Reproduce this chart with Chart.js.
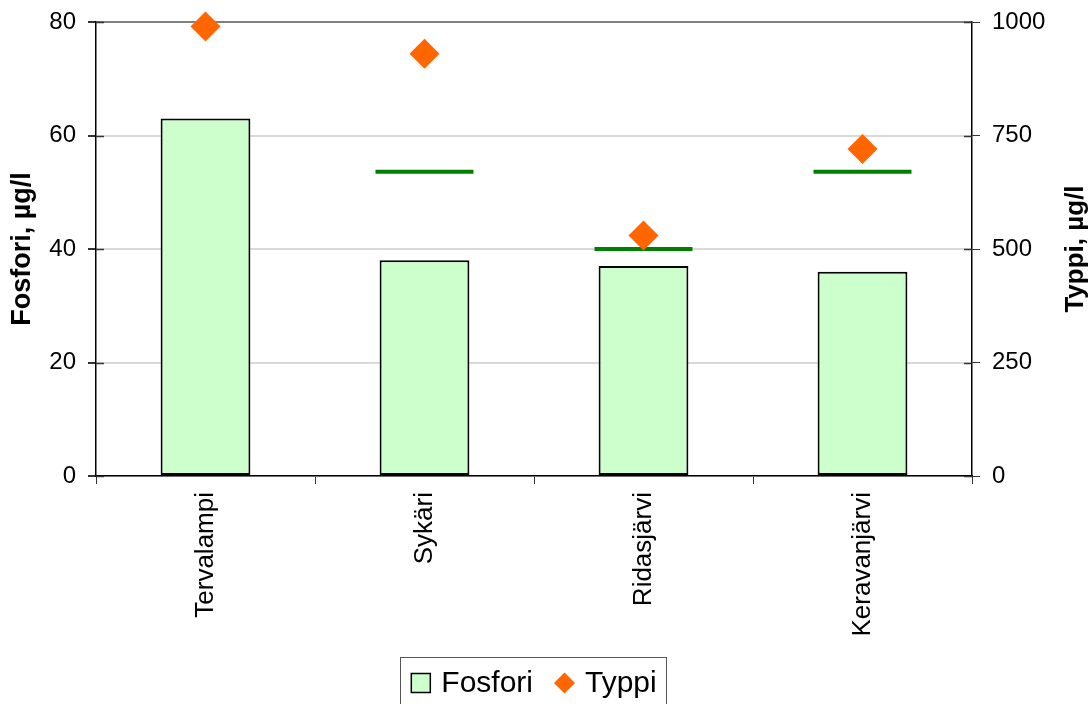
<!DOCTYPE html>
<html>
<head>
<meta charset="utf-8">
<title>Fosfori ja typpi</title>
<script src="https://cdn.jsdelivr.net/npm/chart.js@4"></script>
<style>
  html, body { margin: 0; padding: 0; background: #fff; }
  #wrap { width: 1091px; height: 704px; }
</style>
</head>
<body>
<div id="wrap"><canvas id="chart" width="1091" height="704"></canvas></div>
<script>
// Lakes and measured values
const lakes = ['Tervalampi', 'Sykäri', 'Ridasjärvi', 'Keravanjärvi'];
const fosfori = [63, 38, 37, 36];          // µg/l, left axis
const typpi = [990, 930, 530, 720];        // µg/l, right axis
const typpiLevel = [null, 670, 500, 670];  // green reference level, right axis

const FONT = 'Liberation Sans, Arial, sans-serif';
const BAR_FILL = '#ccffcc';
const ORANGE = '#ff6600';

// Right axis title reads bottom-to-top like the left one
const rightTitle = {
    id: 'rightTitle',
    afterDraw(chart) {
        const ctx = chart.ctx;
        const area = chart.chartArea;
        ctx.save();
        ctx.translate(1076, (area.top + area.bottom) / 2);
        ctx.rotate(-Math.PI / 2);
        ctx.font = 'bold 26px ' + FONT;
        ctx.fillStyle = '#000';
        ctx.textAlign = 'center';
        ctx.textBaseline = 'middle';
        ctx.fillText('Typpi, µg/l', 0, 0);
        ctx.restore();
    }
};

// Short tick marks reaching into the plot on both value axes
const innerTicks = {
    id: 'innerTicks',
    afterDraw(chart) {
        const ctx = chart.ctx;
        ctx.save();
        ctx.strokeStyle = '#333';
        ctx.lineWidth = 1.5;
        ['y', 'y2'].forEach(id => {
            const s = chart.scales[id];
            const x0 = id === 'y' ? s.right : s.left;
            const dir = id === 'y' ? 1 : -1;
            s.ticks.forEach(t => {
                const py = Math.round(s.getPixelForValue(t.value)) + 0.5;
                ctx.beginPath();
                ctx.moveTo(x0, py);
                ctx.lineTo(x0 + dir * 8, py);
                ctx.stroke();
            });
        });
        ctx.restore();
    }
};

// Framed legend under the plot: square for the bars, diamond for the points
const boxLegend = {
    id: 'boxLegend',
    afterDraw(chart) {
        const ctx = chart.ctx;
        const area = chart.chartArea;
        ctx.save();
        ctx.font = '30px ' + FONT;
        const w1 = ctx.measureText('Fosfori').width;
        const w2 = ctx.measureText('Typpi').width;
        const total = 19 + 11 + w1 + 21 + 21 + 10 + w2;
        let x = (area.left + area.right) / 2 - total / 2;
        const cy = 683;

        ctx.strokeStyle = '#555';
        ctx.lineWidth = 1;
        ctx.strokeRect(Math.round(x - 11) + 0.5, 657.5, Math.round(total + 21), 60);

        ctx.fillStyle = BAR_FILL;
        ctx.fillRect(x, cy - 9.5, 19, 19);
        ctx.strokeStyle = '#000';
        ctx.lineWidth = 1.5;
        ctx.strokeRect(x, cy - 9.5, 19, 19);
        x += 19 + 11;

        ctx.fillStyle = '#000';
        ctx.textBaseline = 'middle';
        ctx.fillText('Fosfori', x, cy + 1);
        x += w1 + 21;

        ctx.fillStyle = ORANGE;
        ctx.beginPath();
        ctx.moveTo(x, cy);
        ctx.lineTo(x + 10.5, cy - 10.5);
        ctx.lineTo(x + 21, cy);
        ctx.lineTo(x + 10.5, cy + 10.5);
        ctx.closePath();
        ctx.fill();
        x += 21 + 10;

        ctx.fillStyle = '#000';
        ctx.fillText('Typpi', x, cy + 1);
        ctx.restore();
    }
};

const ctx = document.getElementById('chart').getContext('2d');
new Chart(ctx, {
    data: {
        labels: lakes,
        datasets: [
            {
                type: 'line',
                label: 'Typpi',
                data: typpi,
                yAxisID: 'y2',
                showLine: false,
                clip: false,
                pointStyle: 'rectRot',
                pointRadius: 15,
                pointBackgroundColor: ORANGE,
                pointBorderColor: ORANGE,
                pointBorderWidth: 0,
                order: 0
            },
            {
                type: 'line',
                label: 'Taso',
                data: typpiLevel,
                yAxisID: 'y2',
                showLine: false,
                clip: false,
                pointStyle: 'line',
                pointRadius: 49,
                pointBorderColor: '#008000',
                pointBorderWidth: 4,
                order: 1
            },
            {
                type: 'bar',
                label: 'Fosfori',
                data: fosfori,
                yAxisID: 'y',
                backgroundColor: BAR_FILL,
                borderColor: '#000',
                borderWidth: 2,
                borderSkipped: false,
                categoryPercentage: 1,
                barPercentage: 0.41,
                order: 2
            }
        ]
    },
    options: {
        responsive: false,
        animation: false,
        layout: { autoPadding: false, padding: { top: 22, right: 24, left: 0, bottom: 49 } },
        plugins: {
            tooltip: { enabled: false },
            legend: { display: false }
        },
        scales: {
            x: {
                afterFit: s => { s.height = 179; },
                border: { color: '#000', width: 1.5 },
                grid: { drawOnChartArea: false, tickLength: 8, tickColor: '#333', offset: true },
                ticks: {
                    font: { family: FONT, size: 26 },
                    color: '#000',
                    minRotation: 90,
                    maxRotation: 90,
                    padding: 8
                }
            },
            y: {
                position: 'left',
                min: 0,
                max: 80,
                afterFit: s => { s.width = 96; s.paddingTop = 10; s.paddingBottom = 10; },
                border: { color: '#000', width: 1.5 },
                grid: {
                    color: c => (c.tick && c.tick.value === 80 ? '#808080' : '#d9d9d9'),
                    lineWidth: 2,
                    tickLength: 8,
                    tickColor: '#333'
                },
                ticks: {
                    stepSize: 20,
                    font: { family: FONT, size: 24 },
                    color: '#000',
                    padding: 12
                },
                title: {
                    display: true,
                    text: 'Fosfori, µg/l',
                    font: { family: FONT, size: 27, weight: 'bold' },
                    color: '#000',
                    padding: { top: 6, bottom: 4 }
                }
            },
            y2: {
                position: 'right',
                min: 0,
                max: 1000,
                afterFit: s => { s.width = 95; s.paddingTop = 10; s.paddingBottom = 10; },
                border: { color: '#000', width: 1.5 },
                grid: { drawOnChartArea: false, tickLength: 8, tickColor: '#333' },
                ticks: {
                    stepSize: 250,
                    font: { family: FONT, size: 24 },
                    color: '#000',
                    padding: 12,
                    callback: v => String(v)
                }
            }
        }
    },
    plugins: [rightTitle, innerTicks, boxLegend]
});
</script>
</body>
</html>
